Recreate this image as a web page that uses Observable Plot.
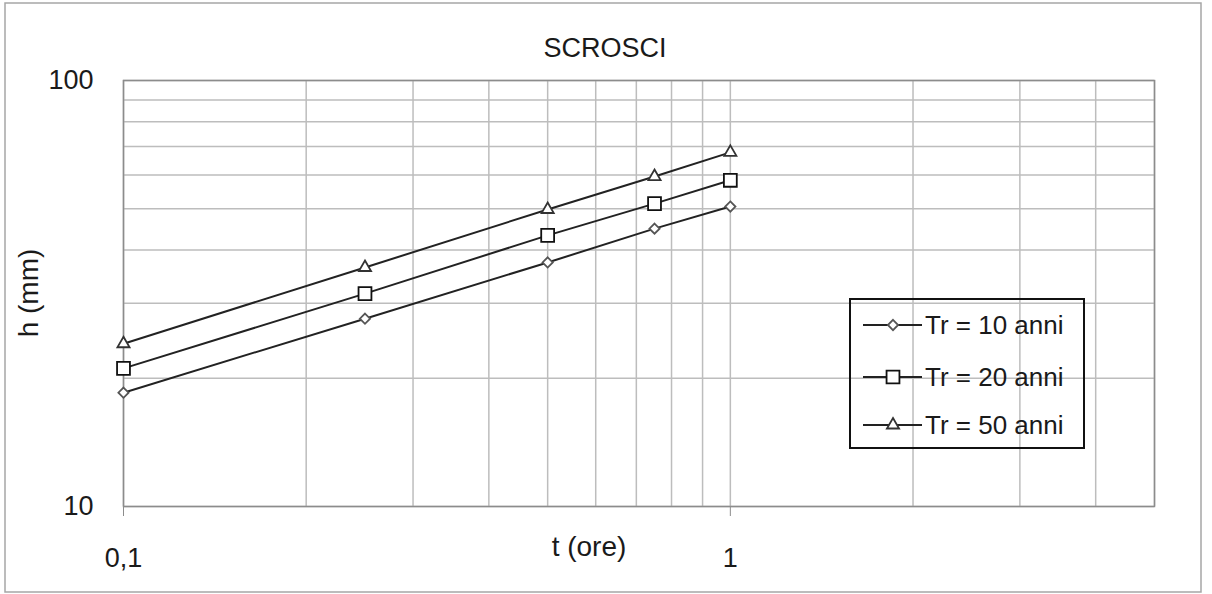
<!DOCTYPE html>
<html><head><meta charset="utf-8">
<script src="https://cdn.jsdelivr.net/npm/d3@7"></script>
<script src="https://cdn.jsdelivr.net/npm/@observablehq/plot@0.6"></script>
<style>body{margin:0;background:#fff} svg{display:block}</style>
</head><body><div id="chart"></div>
<script>
// ---- data ----
const durations = [0.1, 0.25, 0.5, 0.75, 1];          // t (ore)
const tr10 = [18.5, 27.6, 37.4, 44.9, 50.6];            // h (mm), Tr = 10 anni
const tr20 = [21.1, 31.6, 43.3, 51.4, 58.3];            // h (mm), Tr = 20 anni
const tr50 = [24.1, 36.4, 49.8, 59.5, 67.8];            // h (mm), Tr = 50 anni
const seriesNames = ["Tr = 10 anni", "Tr = 20 anni", "Tr = 50 anni"];
const seriesSymbols = ["diamond2", "square2", "triangle2"];
const xGrid = [0.1, 0.2, 0.3, 0.4, 0.5, 0.6, 0.7, 0.8, 0.9, 1, 2, 3, 4, 5];
const yGrid = [10, 20, 30, 40, 50, 60, 70, 80, 90, 100];
const xTicks = [0.1, 1];
const yTicks = [10, 100];
const titleText = "SCROSCI";
const xLabel = "t (ore)";
const yLabel = "h (mm)";

const seriesValues = [tr10, tr20, tr50];
const rows = [];
seriesValues.forEach((vals, i) => vals.forEach((h, j) => rows.push({t: durations[j], h, s: seriesNames[i]})));

const FONT = "'Liberation Sans', Arial, sans-serif";
const symbolR = {"Tr = 10 anni": 4.6, "Tr = 20 anni": 8.2, "Tr = 50 anni": 5.8};
const symbolStroke = {"Tr = 10 anni": "#555", "Tr = 20 anni": "#111", "Tr = 50 anni": "#333"};

const chart = Plot.plot({
  width: 1212, height: 594,
  marginLeft: 123, marginTop: 80, marginRight: 58, marginBottom: 88,
  style: {fontFamily: FONT, fontSize: "27px", color: "#1a1a1a", background: "#fff"},
  x: {type: "log", domain: [0.1, 5]},
  y: {type: "log", domain: [10, 100]},
  symbol: {domain: seriesNames, range: seriesSymbols},
  marks: [
    Plot.ruleX(xGrid, {stroke: "#bdbdbd", strokeWidth: 1.5}),
    Plot.ruleY(yGrid, {stroke: "#bdbdbd", strokeWidth: 1.5}),
    Plot.frame({stroke: "#8c8c8c", strokeWidth: 1.5}),
    Plot.axisX(xTicks, {tickSize: 10, tickPadding: 31, stroke: "#8c8c8c", fill: "#1a1a1a",
      tickFormat: d => String(d).replace(".", ","), label: null}),
    Plot.axisY(yTicks, {tickSize: 0, tickPadding: 30, fill: "#1a1a1a", tickFormat: d => String(d), label: null}),
    Plot.line(rows, {x: "t", y: "h", z: "s", stroke: "#222", strokeWidth: 2}),
    ...seriesNames.map(name => Plot.dot(rows.filter(d => d.s === name), {
      x: "t", y: "h", symbol: "s", r: symbolR[name], stroke: symbolStroke[name], strokeWidth: 1.8, fill: "#fff"
    }))
  ]
});
document.getElementById("chart").appendChild(chart);

const svg = d3.select(chart);
// outer chart border
svg.insert("rect", ":first-child").attr("x", 5).attr("y", 3).attr("width", 1196).attr("height", 589)
  .attr("fill", "#fff").attr("stroke", "#a6a6a6").attr("stroke-width", 1.5);
// title
svg.append("text").attr("x", 605).attr("y", 57).attr("text-anchor", "middle")
  .attr("font-family", FONT).attr("font-size", 27).attr("fill", "#1a1a1a").text(titleText);
// axis titles
svg.append("text").attr("x", 589).attr("y", 556).attr("text-anchor", "middle")
  .attr("font-family", FONT).attr("font-size", 28).attr("fill", "#1a1a1a").text(xLabel);
svg.append("text").attr("transform", "translate(38,293) rotate(-90)").attr("text-anchor", "middle")
  .attr("font-family", FONT).attr("font-size", 28).attr("fill", "#1a1a1a").text(yLabel);

// legend (transparent box: gridlines show through, as in the reference)
const lg = svg.append("g").attr("text-anchor", "start");
lg.append("rect").attr("x", 850).attr("y", 299).attr("width", 234).attr("height", 149)
  .attr("fill", "none").attr("stroke", "#111").attr("stroke-width", 2);
const symMap = {diamond2: d3.symbolDiamond2, square2: d3.symbolSquare2, triangle2: d3.symbolTriangle2};
const rowY = [325, 377, 425];
seriesNames.forEach((name, i) => {
  const y = rowY[i];
  lg.append("line").attr("x1", 863).attr("x2", 922).attr("y1", y).attr("y2", y)
    .attr("stroke", "#222").attr("stroke-width", 2);
  const r = symbolR[name];
  lg.append("path").attr("transform", `translate(893,${y})`)
    .attr("d", d3.symbol(symMap[seriesSymbols[i]], r * r * Math.PI)())
    .attr("fill", "#fff").attr("stroke", symbolStroke[name]).attr("stroke-width", 1.8);
  lg.append("text").attr("x", 925).attr("y", y).attr("dy", "0.35em").attr("text-anchor", "start")
    .attr("font-family", FONT).attr("font-size", 26).attr("fill", "#1a1a1a").text(name);
});
</script>
</body></html>
